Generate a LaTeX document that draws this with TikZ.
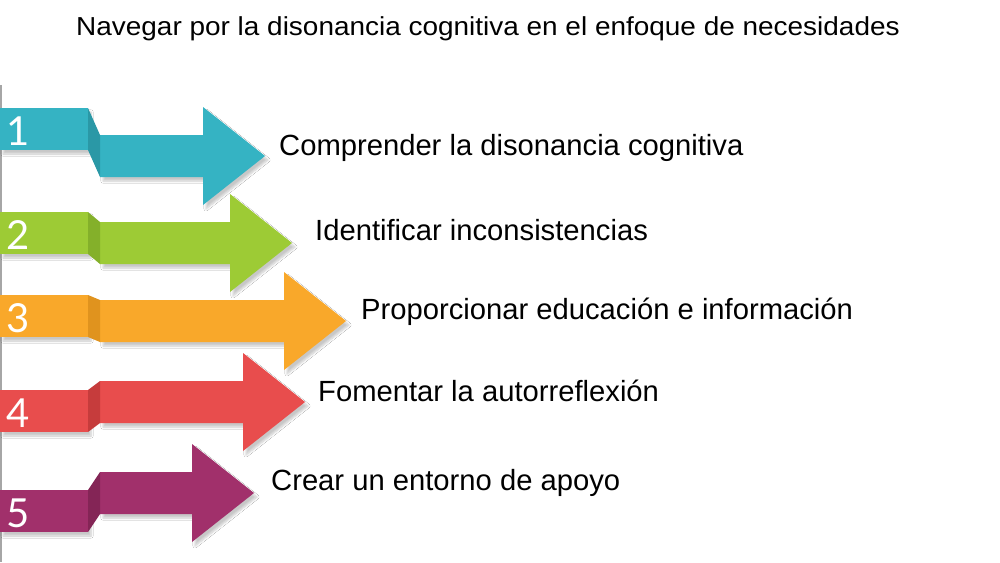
\documentclass[tikz,border=0pt]{standalone}
\usepackage{fontspec}
\setmainfont{Liberation Sans}
\newfontfamily\numfont{Lato}
\usetikzlibrary{shadows.blur}
\definecolor{cteal}{HTML}{35B3C3}
\definecolor{cteald}{HTML}{2A98A6}
\definecolor{cgreen}{HTML}{9DCB35}
\definecolor{cgreend}{HTML}{84B02A}
\definecolor{corange}{HTML}{F9A82A}
\definecolor{coranged}{HTML}{E0931E}
\definecolor{cred}{HTML}{E84D4D}
\definecolor{credd}{HTML}{C63C3C}
\definecolor{cpurple}{HTML}{A1306B}
\definecolor{cpurpled}{HTML}{842556}
\tikzset{
  ribbon/.style={fill=#1, draw=none},
  shade face/.style={fill=#1, draw=none},
  numlabel/.style={text=white, font=\numfont\fontsize{40}{40}\selectfont, anchor=center, inner sep=0pt},
  steplabel/.style={text=black, font=\fontsize{29.2}{33}\selectfont, anchor=base west, inner sep=0pt},
  titlelabel/.style={text=black, font=\fontsize{26}{30}\selectfont, anchor=base west, inner sep=0pt},
  dropsh/.style={blur shadow={shadow xshift=3pt, shadow yshift=-4pt, shadow opacity=22, shadow blur steps=6}}
}
% #1 color, #2 dark color, #3 tab top, #4 shaft top, #5 head x, #6 number, #7 name
\newcommand{\ribbonarrow}[7]{%
  \path[ribbon=#1, dropsh] (0,#3) -- (88,#3) -- (88,#3+42) -- (0,#3+42) -- cycle;
  \path[ribbon=#1, dropsh] (100,#4) -- (#5,#4) -- (#5,#4+21-49) -- (#5+62,#4+21) -- (#5,#4+21+49) -- (#5,#4+42) -- (100,#4+42) -- cycle;
  \path[shade face=#2] (88,#3) -- (100,#4) -- (100,#4+42) -- (88,#3+42) -- cycle;
  \node[numlabel] (#7) at (18,#3+23) {#6};
}
\begin{document}
\begin{tikzpicture}[x=1pt,y=-1pt]
\useasboundingbox (0,0) rectangle (1000,562);
\fill[white] (0,0) rectangle (1000,562);
\draw[gray!70, line width=1.5pt] (1,85) -- (1,562);

\node[titlelabel] (title) at (76,35) {\scalebox{1.075}[1]{Navegar por la disonancia cognitiva en el enfoque de necesidades}};

\ribbonarrow{cteal}{cteald}{108}{135}{203}{1}{n1}
\ribbonarrow{cgreen}{cgreend}{212}{222}{230}{2}{n2}
\ribbonarrow{corange}{coranged}{295}{300}{284}{3}{n3}
\ribbonarrow{cred}{credd}{390}{381}{243}{4}{n4}
\ribbonarrow{cpurple}{cpurpled}{490}{472}{192}{5}{n5}

\node[steplabel] (l1) at (279,155) {Comprender la disonancia cognitiva};
\node[steplabel] (l2) at (315,240) {Identificar inconsistencias};
\node[steplabel] (l3) at (361,319) {Proporcionar educación e información};
\node[steplabel] (l4) at (318,401) {Fomentar la autorreflexión};
\node[steplabel] (l5) at (271,490) {Crear un entorno de apoyo};
\end{tikzpicture}
\end{document}
